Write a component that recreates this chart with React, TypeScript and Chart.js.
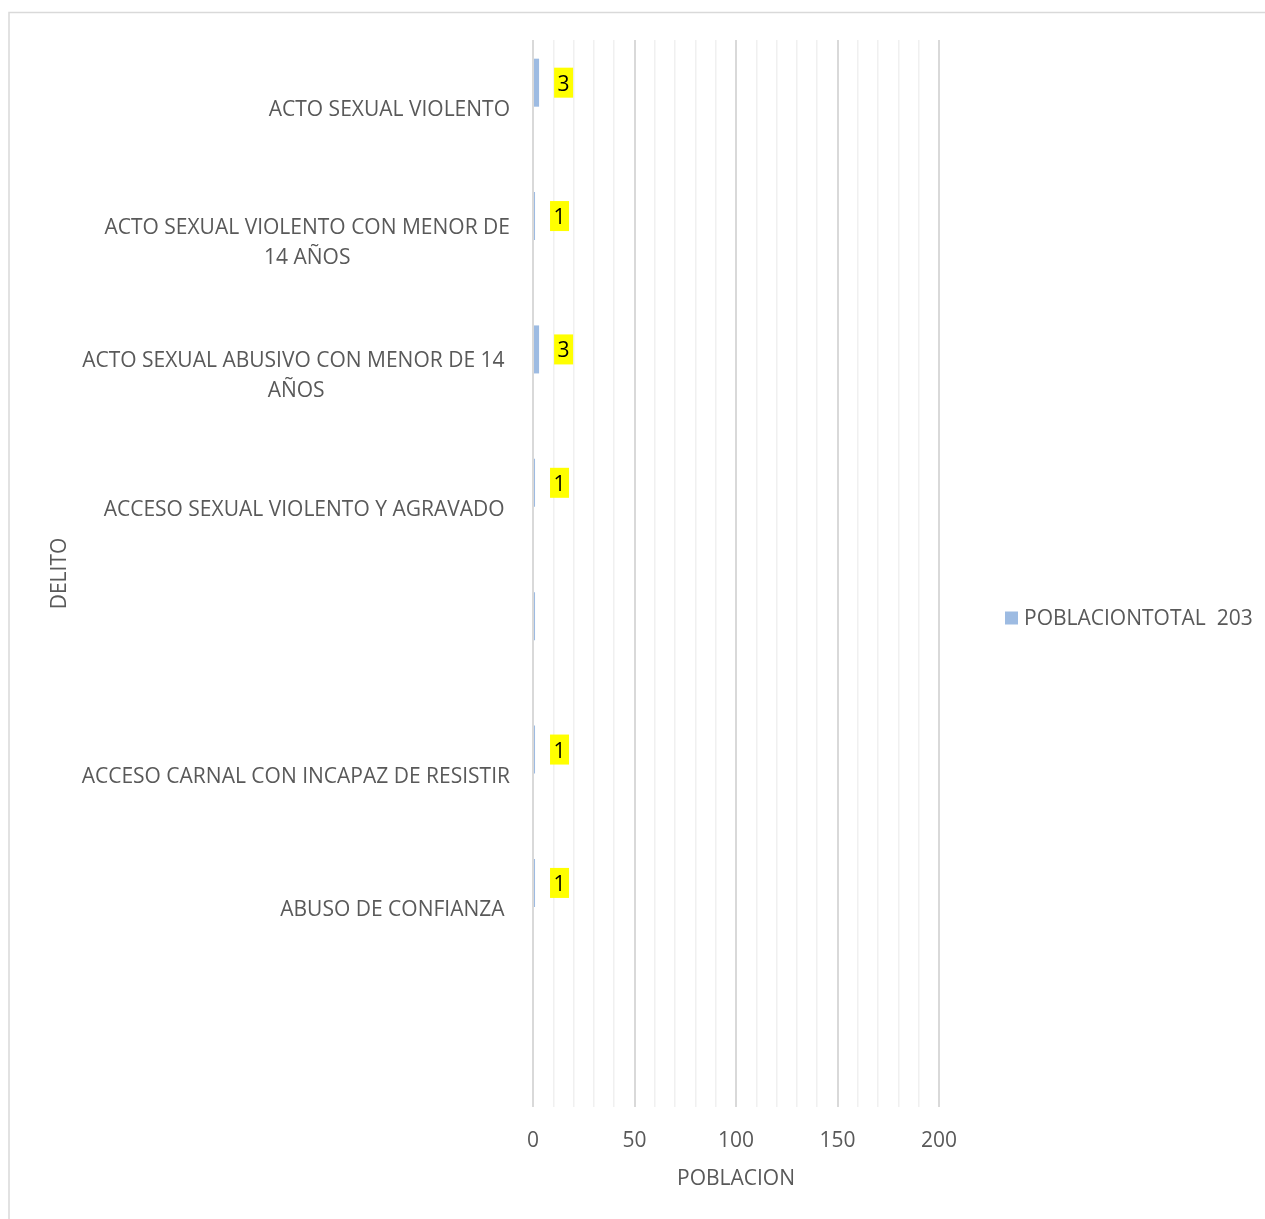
import React, { useEffect, useRef } from 'react';
import { Chart, registerables } from 'chart.js';

Chart.register(...registerables);

// ---- data ----
const categories: (string | string[])[] = [
  'ACTO SEXUAL VIOLENTO',
  ['ACTO SEXUAL VIOLENTO CON MENOR DE', '14 AÑOS'],
  ['ACTO SEXUAL ABUSIVO CON MENOR DE 14 ', 'AÑOS'],
  'ACCESO SEXUAL VIOLENTO Y AGRAVADO ',
  '',
  'ACCESO CARNAL CON INCAPAZ DE RESISTIR',
  'ABUSO DE CONFIANZA ',
  '',
];
const poblacion: (number | null)[] = [3, 1, 3, 1, 1, 1, 1, null];
const showValueLabel: boolean[] = [true, true, true, true, false, true, true, false];
const seriesName = 'POBLACIONTOTAL  203';
const xMin = 0;
const xMax = 200;
const xStep = 10;
const xLabelStep = 50;
const xTitle = 'POBLACION';
const yTitle = 'DELITO';

// ---- styles ----
const W = 1265;
const H = 1219;
const FONT = "'Open Sans', sans-serif";
const FS = 21;
const TEXT = '#595959';
const BAR = '#9DBBE2';
const PLOT_LEFT = 533;
const PLOT_RIGHT = 939;
const PLOT_TOP = 40;
const PLOT_BOTTOM = 1107;
const LEGEND_BOX_X = 1005;
const LEGEND_TEXT_X = 1024;
const LEGEND_Y = 618;
const BOX = 13;

export default function App() {
  const ref = useRef<HTMLCanvasElement | null>(null);

  useEffect(() => {
    const canvas = ref.current;
    if (!canvas) return;

    const pad = { left: 43, top: PLOT_TOP, right: W - PLOT_RIGHT, bottom: 25 };

    const borderPlugin = {
      id: 'outerBorder',
      beforeDraw(chart: any) {
        const c = chart.ctx;
        c.save();
        c.fillStyle = '#ffffff';
        c.fillRect(0, 0, chart.width, chart.height);
        c.strokeStyle = '#d9d9d9';
        c.lineWidth = 1.5;
        c.strokeRect(9, 12.5, 3000, 3000);
        c.restore();
      },
    };

    const catLabelPlugin = {
      id: 'catLabels',
      afterDraw(chart: any) {
        const c = chart.ctx;
        const ys = chart.scales.y;
        const right = chart.chartArea.left - 23;
        c.save();
        c.font = `${FS}px ${FONT}`;
        c.fillStyle = TEXT;
        c.textAlign = 'center';
        c.textBaseline = 'middle';
        categories.forEach((lab, i) => {
          const lines = Array.isArray(lab) ? lab : [lab];
          if (lines.every((l) => l === '')) return;
          const widest = Math.max(...lines.map((l) => c.measureText(l).width));
          const cx = right - widest / 2;
          const cy = ys.getPixelForValue(i) + 3;
          const lh = 30;
          lines.forEach((l, j) => {
            c.fillText(l, cx, cy + (j - (lines.length - 1) / 2) * lh);
          });
        });
        c.restore();
      },
    };

    const legendPlugin = {
      id: 'sideLegend',
      afterDraw(chart: any) {
        const c = chart.ctx;
        const ds = chart.data.datasets[0];
        c.save();
        c.fillStyle = ds.backgroundColor;
        c.fillRect(LEGEND_BOX_X, LEGEND_Y - BOX / 2, BOX, BOX);
        c.font = `${FS}px ${FONT}`;
        c.fillStyle = TEXT;
        c.textAlign = 'left';
        c.textBaseline = 'middle';
        c.fillText(ds.label, LEGEND_TEXT_X, LEGEND_Y + 1);
        c.restore();
      },
    };

    const valueLabelPlugin = {
      id: 'valueLabels',
      afterDatasetsDraw(chart: any) {
        const c = chart.ctx;
        const meta = chart.getDatasetMeta(0);
        c.save();
        c.font = `${FS}px ${FONT}`;
        c.textAlign = 'left';
        c.textBaseline = 'middle';
        meta.data.forEach((el: any, i: number) => {
          const v = poblacion[i];
          if (v == null || !showValueLabel[i]) return;
          const txt = String(v);
          const tw = c.measureText(txt).width;
          const bx = el.x + 15;
          const bw = tw + 7;
          const bh = 30;
          c.fillStyle = '#ffff00';
          c.fillRect(bx, el.y - bh / 2, bw, bh);
          c.fillStyle = '#000000';
          c.fillText(txt, bx + 3.5, el.y + 2);
        });
        c.restore();
      },
    };

    const chart = new Chart(canvas, {
      type: 'bar',
      data: {
        labels: categories as any,
        datasets: [
          {
            label: seriesName,
            data: poblacion,
            backgroundColor: BAR,
            borderWidth: 0,
            categoryPercentage: 0.72,
            barPercentage: 1,
          },
          {
            label: 'spacer',
            data: categories.map(() => null),
            backgroundColor: 'rgba(0,0,0,0)',
            borderWidth: 0,
            categoryPercentage: 0.72,
            barPercentage: 1,
          },
        ],
      },
      options: {
        indexAxis: 'y',
        responsive: false,
        animation: false,
        devicePixelRatio: 1,
        layout: { padding: { ...pad } },
        plugins: {
          tooltip: { enabled: false },
          legend: { display: false },
        },
        scales: {
          x: {
            type: 'linear',
            min: xMin,
            max: xMax,
            border: { display: false },
            grid: {
              drawTicks: false,
              color: (ctx: any) => (ctx.tick && ctx.tick.value % xLabelStep === 0 ? '#d9d9d9' : '#f0f0f0'),
              lineWidth: (ctx: any) => (ctx.tick && ctx.tick.value % xLabelStep === 0 ? 2 : 1.5),
            },
            ticks: {
              stepSize: xStep,
              autoSkip: false,
              maxRotation: 0,
              padding: 21,
              color: TEXT,
              font: { family: FONT, size: FS },
              callback: (v: any) => (Number(v) % xLabelStep === 0 ? String(v) : ''),
            },
            title: {
              display: true,
              text: xTitle,
              color: TEXT,
              font: { family: FONT, size: FS },
              padding: { top: -8, bottom: 4 },
            },
          },
          y: {
            type: 'category',
            border: { display: false },
            grid: { display: false },
            ticks: { display: false },
            title: {
              display: true,
              text: yTitle,
              color: TEXT,
              font: { family: FONT, size: FS },
              padding: { top: 4, bottom: 4 },
            },
            afterFit: (scale: any) => {
              scale.width = PLOT_LEFT - pad.left;
            },
          },
        },
      },
      plugins: [borderPlugin, catLabelPlugin, valueLabelPlugin, legendPlugin],
    } as any);

    // fine-tune layout padding so the plot area lands where the reference has it
    for (let k = 0; k < 4; k++) {
      const ca = chart.chartArea;
      const dx = ca.right - PLOT_RIGHT;
      const dy = ca.bottom - PLOT_BOTTOM;
      if (Math.abs(dx) < 0.5 && Math.abs(dy) < 0.5) break;
      pad.right = Math.max(0, pad.right + dx);
      pad.bottom = Math.max(0, pad.bottom + dy);
      (chart.options as any).layout.padding = { ...pad };
      chart.update();
    }

    return () => chart.destroy();
  }, []);

  return (
    <div style={{ position: 'absolute', left: 0, top: 0, width: W, height: H, overflow: 'hidden' }}>
      <canvas ref={ref} width={W} height={H} style={{ display: 'block' }} />
    </div>
  );
}
